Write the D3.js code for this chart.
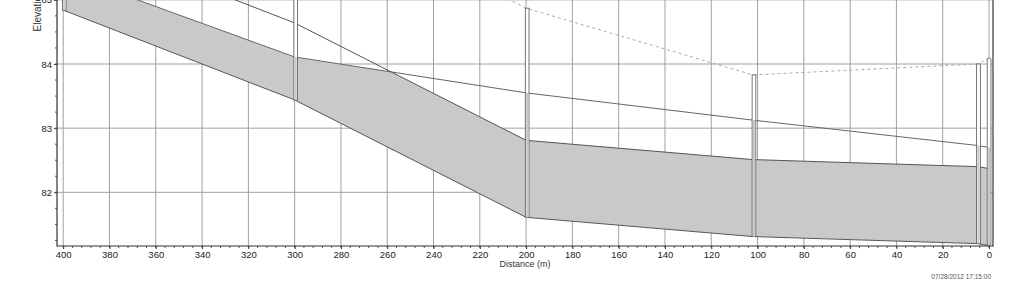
<!DOCTYPE html>
<html>
<head>
<meta charset="utf-8">
<script src="https://cdn.jsdelivr.net/npm/d3@7/dist/d3.min.js"></script>
<style>
  body { margin: 0; background: #fff; }
  svg { display: block; font-family: "Liberation Sans", Arial, sans-serif; }
</style>
</head>
<body>
<svg id="chart" width="1023" height="286"></svg>
<script>
// profile data
var nodeDist   = [400, 300, 200, 102, 5, 0];
var nodeInvert = [84.84, 83.44, 81.61, 81.31, 81.20, 81.17];
var nodeRim    = [87.4, 86.68, 84.87, 83.83, 84.00, 84.09];
var nodeHead   = [85.42, 84.11, 83.55, 83.125, 82.73, 82.70];
var pipeDiam   = [1.2, 1.2, 1.2, 1.2, 1.2];

var xTicks = d3.range(0, 401, 20);
var xMinor = d3.range(0, 401, 4);
var yTicks = [82, 83, 84, 85];
var yMinor = d3.range(81.25, 85.01, 0.25);
var timeStamp = "07/28/2012 17:15:00";

var svg = d3.select("#chart");
var left = 57, right = 993, bottom = 246;

var x = d3.scaleLinear().domain([400, 0]).range([63.2, 989]);
var y = d3.scaleLinear().domain([82, 84]).range([192.3, 64]);

svg.append("clipPath").attr("id", "plotclip")
  .append("rect").attr("x", left).attr("y", -400).attr("width", right - left).attr("height", bottom + 400);

// gridlines
var grid = svg.append("g").attr("clip-path", "url(#plotclip)");
grid.selectAll("line.gx").data(xTicks).enter().append("line")
  .attr("x1", function(d){ return x(d); }).attr("x2", function(d){ return x(d); })
  .attr("y1", -10).attr("y2", bottom)
  .attr("stroke", "#a0a0a0").attr("stroke-width", 1);
grid.selectAll("line.gy").data(yTicks).enter().append("line")
  .attr("x1", left).attr("x2", right)
  .attr("y1", function(d){ return y(d); }).attr("y2", function(d){ return y(d); })
  .attr("stroke", "#a0a0a0").attr("stroke-width", 1);

var plot = svg.append("g").attr("clip-path", "url(#plotclip)");

// build conduits
var conduits = [];
for (var i = 0; i < pipeDiam.length; i++) {
  conduits.push({
    d0: nodeDist[i], d1: nodeDist[i+1],
    inv0: nodeInvert[i], inv1: nodeInvert[i+1],
    cr0: nodeInvert[i] + pipeDiam[i], cr1: nodeInvert[i+1] + pipeDiam[i],
    h0: nodeHead[i], h1: nodeHead[i+1]
  });
}

var defs = svg.append("defs");
conduits.forEach(function(c, i) {
  var pts = [[x(c.d0), y(c.inv0)], [x(c.d1), y(c.inv1)], [x(c.d1), y(c.cr1)], [x(c.d0), y(c.cr0)]];
  defs.append("clipPath").attr("id", "pipe" + i)
    .append("path").attr("d", "M" + pts.join("L") + "Z");

  // water in the pipe
  var water = [[x(c.d0), y(c.inv0)], [x(c.d1), y(c.inv1)], [x(c.d1), y(c.h1)], [x(c.d0), y(c.h0)]];
  plot.append("path")
    .attr("d", "M" + water.join("L") + "Z")
    .attr("clip-path", "url(#pipe" + i + ")")
    .attr("fill", "#c9c9c9");
});

// pipe outlines
conduits.forEach(function(c) {
  plot.append("line")
    .attr("x1", x(c.d0)).attr("y1", y(c.inv0)).attr("x2", x(c.d1)).attr("y2", y(c.inv1))
    .attr("stroke", "#555").attr("stroke-width", 1);
  plot.append("line")
    .attr("x1", x(c.d0)).attr("y1", y(c.cr0)).attr("x2", x(c.d1)).attr("y2", y(c.cr1))
    .attr("stroke", "#555").attr("stroke-width", 1);
});

// hydraulic grade line
var hgl = d3.line().x(function(d){ return x(d[0]); }).y(function(d){ return y(d[1]); });
plot.append("path")
  .datum(d3.zip(nodeDist, nodeHead))
  .attr("d", hgl)
  .attr("fill", "none").attr("stroke", "#666").attr("stroke-width", 1);

// ground line
plot.append("path")
  .datum(d3.zip(nodeDist, nodeRim))
  .attr("d", hgl)
  .attr("fill", "none").attr("stroke", "#aaa").attr("stroke-width", 1)
  .attr("stroke-dasharray", "3,3");

// manholes
var mhWidth = 1.6;
nodeDist.forEach(function(d, i) {
  var last = i == nodeDist.length - 1;
  var x0 = x(d) - (last ? mhWidth * 1.1 : mhWidth / 2);
  var w = x(d - mhWidth) - x(d);
  var g = plot.append("g");
  g.append("rect")
    .attr("x", x0).attr("y", y(nodeRim[i]))
    .attr("width", w).attr("height", y(nodeInvert[i]) - y(nodeRim[i]))
    .attr("rx", last ? 1.5 : 0)
    .attr("fill", "#fff").attr("stroke", "#555").attr("stroke-width", 0.8);
  var top = Math.min(nodeHead[i], nodeRim[i]);
  g.append("rect")
    .attr("x", x0 + 0.8).attr("y", y(top))
    .attr("width", Math.max(w - 1.6, 0.5)).attr("height", y(nodeInvert[i]) - y(top))
    .attr("fill", "#c9c9c9");
});

// axes
var xAxis = d3.axisBottom(x).tickValues(xTicks).tickSize(3).tickPadding(2).tickFormat(d3.format("d"));
var gx = svg.append("g").attr("transform", "translate(0," + bottom + ")").call(xAxis);
gx.select(".domain").remove();
gx.selectAll(".tick line").attr("stroke", "#333");
gx.selectAll(".tick text").attr("font-size", 9.5).attr("fill", "#222").attr("font-family", null);
gx.selectAll("line.minor").data(xMinor).enter().append("line")
  .attr("class", "minor")
  .attr("x1", function(d){ return x(d); }).attr("x2", function(d){ return x(d); })
  .attr("y1", 0).attr("y2", 2).attr("stroke", "#555");

var yAxis = d3.axisLeft(y).tickValues(yTicks).tickSize(3).tickPadding(2).tickFormat(d3.format("d"));
var gy = svg.append("g").attr("transform", "translate(" + left + ",0)").call(yAxis);
gy.select(".domain").remove();
gy.selectAll(".tick line").attr("stroke", "#333");
gy.selectAll(".tick text").attr("font-size", 9.5).attr("fill", "#222").attr("font-family", null);
gy.selectAll("line.minor").data(yMinor).enter().append("line")
  .attr("class", "minor")
  .attr("x1", -2).attr("x2", 0)
  .attr("y1", function(d){ return y(d); }).attr("y2", function(d){ return y(d); })
  .attr("stroke", "#555");

// frame
svg.append("line").attr("x1", left).attr("x2", left).attr("y1", -5).attr("y2", bottom + 0.5)
  .attr("stroke", "#333").attr("stroke-width", 1.2);
svg.append("line").attr("x1", right).attr("x2", right).attr("y1", -5).attr("y2", bottom + 0.5)
  .attr("stroke", "#333").attr("stroke-width", 1.2);
svg.append("line").attr("x1", left).attr("x2", right).attr("y1", bottom).attr("y2", bottom)
  .attr("stroke", "#333").attr("stroke-width", 1.2);

// labels (the reference crops the top of the chart, so these stay partly cut)
svg.append("text")
  .attr("transform", "translate(41,2) rotate(-90)")
  .attr("text-anchor", "middle")
  .attr("font-size", 10).attr("fill", "#333")
  .text("Elevation (m)");
svg.append("text")
  .attr("x", 525).attr("y", 267)
  .attr("text-anchor", "middle")
  .attr("font-size", 9).attr("fill", "#333")
  .text("Distance (m)");
svg.append("text")
  .attr("x", 991).attr("y", 279)
  .attr("text-anchor", "end")
  .attr("font-size", 6.5).attr("fill", "#555")
  .text(timeStamp);
</script>
</body>
</html>
